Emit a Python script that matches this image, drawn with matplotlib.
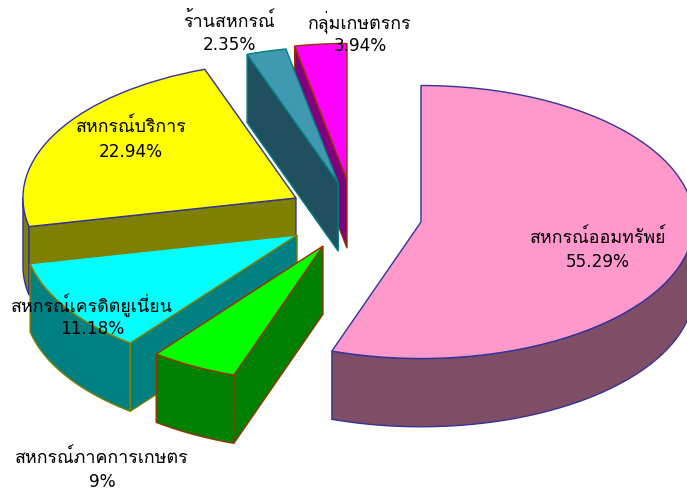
import numpy as np
import matplotlib
matplotlib.use("Agg")
import matplotlib.pyplot as plt
from matplotlib.patches import Wedge

# clockwise from 12 o'clock; the slice sizes as drawn differ a little from the printed labels
categories = ["สหกรณ์ออมทรัพย์", "สหกรณ์ภาคการเกษตร", "สหกรณ์เครดิตยูเนี่ยน",
              "สหกรณ์บริการ", "ร้านสหกรณ์", "กลุ่มเกษตรกร"]
slice_values = [55.29, 5.17, 11.18, 22.94, 2.35, 3.07]
value_labels = ["55.29%", "9%", "11.18%", "22.94%", "2.35%", "3.94%"]

top_colors = ["#FF99CC", "#00FF00", "#00FFFF", "#FFFF00", "#4099B0", "#FF00FF"]
wall_colors = ["#804D66", "#008000", "#008080", "#808000", "#205060", "#800080"]
edge_colors = ["#333399", "#993300", "#808000", "#333399", "#008080", "#993300"]

# offset of each slice from the pie centre, in pie radii
slice_shift = [(0.26, -0.066), (-0.099, -0.242), (-0.194, -0.161),
               (-0.198, 0.11), (-0.043, 0.22), (-0.011, 0.242)]
# label centres in pixels: category line, value line
label_pos = [(598, 238, 262), (102, 458, 482), (92, 305, 329),
             (131, 127, 152), (229, 21, 45), (360, 22, 46)]
draw_order = [3, 2, 1, 5, 4, 0]

DEPTH = 0.5
RX, RY = 273, 136.5
CX, CY = 350, 213
W, H = 687, 491


def ArcPoints(cx, cy, t1, t2):
    t = np.radians(np.linspace(t1, t2, max(int(abs(t2 - t1)), 2)))
    return cx + np.cos(t), cy + np.sin(t)


def DrawWall(ax, x, y, face, edge):
    xs = np.concatenate([x, x[::-1]])
    ys = np.concatenate([y, y[::-1] - DEPTH])
    ax.fill(xs, ys, facecolor=face, edgecolor=edge, linewidth=1, joinstyle='miter')


def DrawSlice(ax, i, t1, t2):
    cx, cy = slice_shift[i]
    face, edge = wall_colors[i], edge_colors[i]

    # lower half of the rim faces the viewer
    for k in (0, -360):
        low, high = max(t1, -180 + k), min(t2, k)
        if high > low:
            DrawWall(ax, *ArcPoints(cx, cy, low, high), face, edge)

    # cut faces, only the ones turned towards the viewer
    if np.cos(np.radians(t1)) > 0:
        DrawWall(ax, np.array([cx, cx + np.cos(np.radians(t1))]),
                 np.array([cy, cy + np.sin(np.radians(t1))]), face, edge)
    if np.cos(np.radians(t2)) < 0:
        DrawWall(ax, np.array([cx, cx + np.cos(np.radians(t2))]),
                 np.array([cy, cy + np.sin(np.radians(t2))]), face, edge)

    ax.add_patch(Wedge((cx, cy), 1, t1, t2, facecolor=top_colors[i], edgecolor=edge, linewidth=1))


def Main():
    fig = plt.figure(figsize=(W / 100, H / 100), dpi=100)
    ax = fig.add_axes([0, 0, 1, 1])
    ax.set_xlim(-CX / RX, (W - CX) / RX)
    ax.set_ylim(-(H - CY) / RY, CY / RY)
    ax.axis('off')

    ends = 90 - np.cumsum(slice_values) * 3.6
    starts = np.concatenate([[90], ends[:-1]])
    for i in draw_order:
        DrawSlice(ax, i, ends[i], starts[i])

    for i, (px, py_name, py_value) in enumerate(label_pos):
        ax.text(px / W, 1 - py_name / H, categories[i], transform=ax.transAxes, ha='center', va='center',
                fontsize=12.9, color='black', family=['Loma', 'DejaVu Sans'])
        ax.text(px / W, 1 - py_value / H, value_labels[i], transform=ax.transAxes, ha='center', va='center',
                fontsize=12.2, color='black', family=['DejaVu Sans'])

    fig.savefig("out.png", dpi=100)
    plt.close(fig)


if __name__ == "__main__":
    Main()
